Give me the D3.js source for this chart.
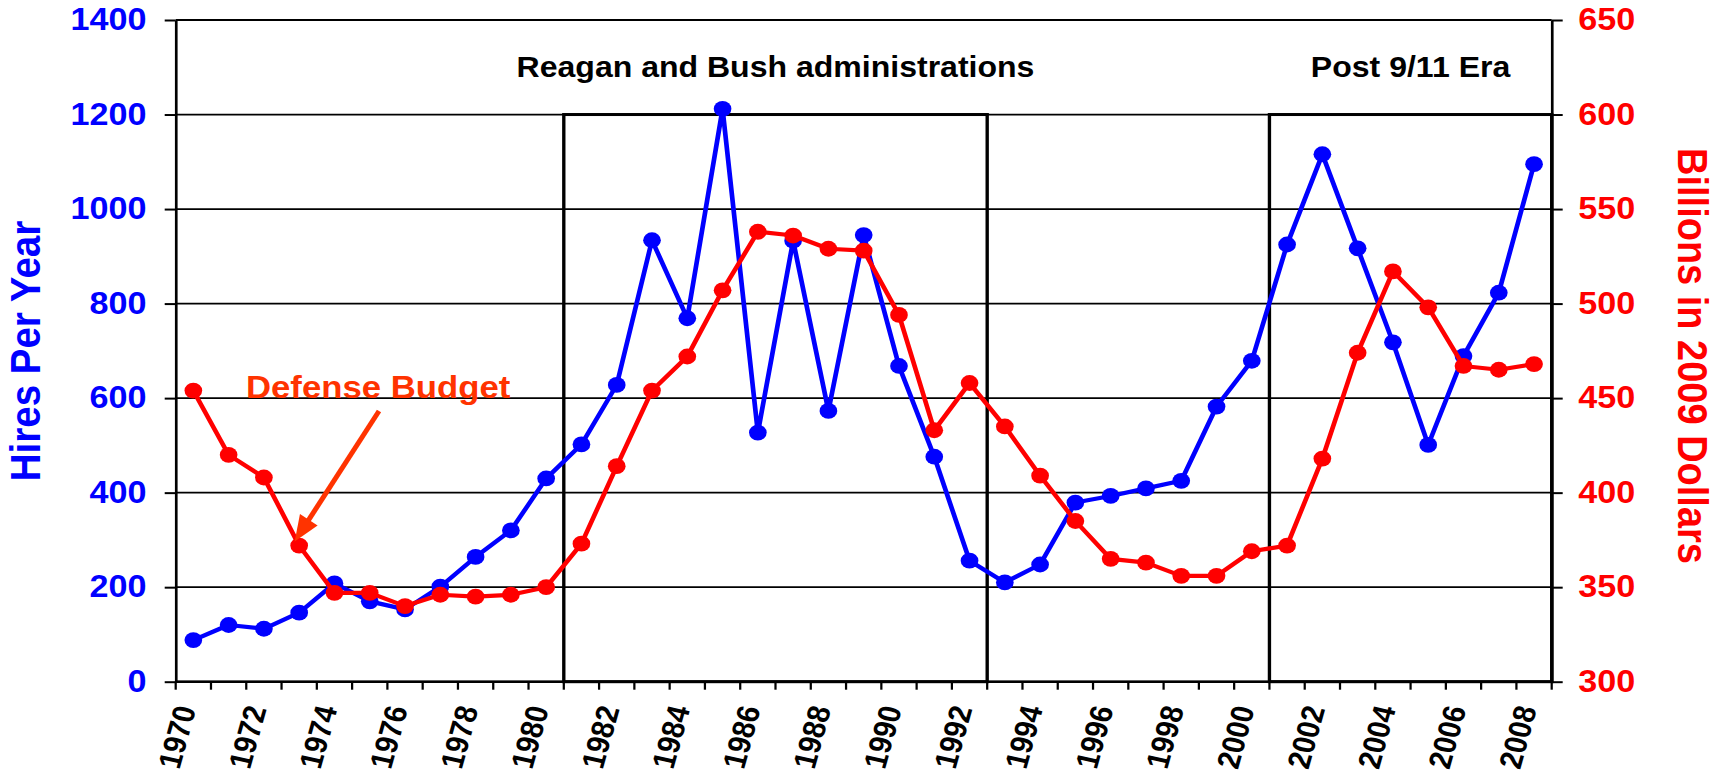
<!DOCTYPE html>
<html>
<head>
<meta charset="utf-8">
<script src="https://cdn.jsdelivr.net/npm/d3@7"></script>
<style>
  html, body { margin: 0; padding: 0; background: #fff; }
  svg { display: block; font-family: "Liberation Sans", Arial, sans-serif; font-weight: bold; }
</style>
</head>
<body>
<svg id="chart" width="1725" height="776"></svg>
<script>
// ---- data ----
const years = [1970, 1971, 1972, 1973, 1974, 1975, 1976, 1977, 1978, 1979,
               1980, 1981, 1982, 1983, 1984, 1985, 1986, 1987, 1988, 1989,
               1990, 1991, 1992, 1993, 1994, 1995, 1996, 1997, 1998, 1999,
               2000, 2001, 2002, 2003, 2004, 2005, 2006, 2007, 2008];

// hires per year (left axis)
const hires = [88, 120, 112, 146, 208, 170, 153, 201, 264, 320,
               430, 502, 628, 934, 769, 1212, 527, 933, 573, 945,
               668, 476, 256, 210, 248, 379, 393, 409, 425, 582,
               679, 925, 1116, 917, 718, 501, 689, 823, 1095];

// defense budget, billions in 2009 dollars (right axis)
const budget = [454, 420, 408, 372, 347, 347, 340, 346, 345, 346,
                350, 373, 414, 454, 472, 507, 538, 536, 529, 528,
                494, 433, 458, 435, 409, 385, 365, 363, 356, 356,
                369, 372, 418, 474, 517, 498, 467, 465, 468];

const hiresTicks  = [0, 200, 400, 600, 800, 1000, 1200, 1400];
const budgetTicks = [300, 350, 400, 450, 500, 550, 600, 650];
const yearLabels  = [1970, 1972, 1974, 1976, 1978, 1980, 1982, 1984, 1986, 1988,
                     1990, 1992, 1994, 1996, 1998, 2000, 2002, 2004, 2006, 2008];

// framed periods: name, first year, last year, top of the frame (hires units)
const eraNames  = ["Reagan and Bush administrations", "Post 9/11 Era"];
const eraStart  = [1981, 2001];
const eraEnd    = [1992, 2008];
const eraTop    = 1200;

const annotationText = "Defense Budget";
const annotationYear = 1973;

// ---- layout ----
const SX = 1.12;                    // horizontal stretch of the whole drawing
const L = 175.7 / SX, R = 1551.7 / SX, T = 20, B = 681.7;
const BLUE = "#0000FF", RED = "#FF0000", ORANGE = "#FF3300";

const svg = d3.select("#chart");
const root = svg.append("g").attr("transform", `scale(${SX},1)`);

const x = d3.scaleBand().domain(years).range([L, R]).padding(0);
const cx = yr => x(yr) + x.bandwidth() / 2;
const yL = d3.scaleLinear().domain([0, 1400]).range([B, T]);
const yR = d3.scaleLinear().domain([300, 650]).range([B, T]);

// horizontal gridlines
root.append("g")
  .selectAll("line").data(hiresTicks).join("line")
  .attr("x1", L).attr("x2", R)
  .attr("y1", d => yL(d)).attr("y2", d => yL(d))
  .attr("stroke", "#000").attr("stroke-width", 1.8);

// period frames and their titles
const eras = eraNames.map((name, i) => ({ name, start: eraStart[i], end: eraEnd[i] }));
root.append("g")
  .selectAll("rect").data(eras).join("rect")
  .attr("x", d => x(d.start))
  .attr("width", d => x(d.end) + x.bandwidth() - x(d.start))
  .attr("y", yL(eraTop))
  .attr("height", B - yL(eraTop))
  .attr("fill", "none").attr("stroke", "#000").attr("stroke-width", 3);

root.append("g")
  .selectAll("text").data(eras).join("text")
  .attr("x", d => (x(d.start) + x(d.end) + x.bandwidth()) / 2)
  .attr("y", yL(1300))
  .attr("dy", "0.35em")
  .attr("text-anchor", "middle")
  .attr("font-size", 28.6)
  .attr("fill", "#000")
  .text(d => d.name);

// left axis
const axL = root.append("g").attr("transform", `translate(${L},0)`)
  .call(d3.axisLeft(yL).tickValues(hiresTicks).tickSize(11 / SX)
        .tickSizeOuter(0).tickPadding(16.3).tickFormat(d3.format("d")));
axL.select(".domain").attr("stroke", "#000").attr("stroke-width", 2.4);
axL.selectAll(".tick line").attr("stroke", "#000").attr("stroke-width", 2);
axL.selectAll(".tick text")
  .attr("fill", BLUE).attr("font-size", 30.5)
  .attr("font-family", "Liberation Sans, Arial, sans-serif").attr("font-weight", "bold");

// right axis
const axR = root.append("g").attr("transform", `translate(${R},0)`)
  .call(d3.axisRight(yR).tickValues(budgetTicks).tickSize(11 / SX)
        .tickSizeOuter(0).tickPadding(14).tickFormat(d3.format("d")));
axR.select(".domain").attr("stroke", "#000").attr("stroke-width", 2.4);
axR.selectAll(".tick line").attr("stroke", "#000").attr("stroke-width", 2);
axR.selectAll(".tick text")
  .attr("fill", RED).attr("font-size", 30.5)
  .attr("font-family", "Liberation Sans, Arial, sans-serif").attr("font-weight", "bold");

// category axis: baseline, ticks between categories, slanted year labels
const axB = root.append("g");
axB.append("line")
  .attr("x1", L).attr("x2", R).attr("y1", B).attr("y2", B)
  .attr("stroke", "#000").attr("stroke-width", 2.6);
axB.selectAll("line.tk").data(years.map(yr => x(yr)).concat([R])).join("line")
  .attr("class", "tk")
  .attr("x1", d => d).attr("x2", d => d)
  .attr("y1", B).attr("y2", B + 8)
  .attr("stroke", "#000").attr("stroke-width", 2);
axB.selectAll("text").data(yearLabels).join("text")
  .attr("transform", d => `translate(${cx(d) + 3 / SX},${B + 27}) rotate(-76)`)
  .attr("text-anchor", "end")
  .attr("font-size", 28.5)
  .attr("fill", "#000")
  .text(d => d);

// axis titles
root.append("text")
  .attr("transform", `translate(${40 / SX},351) rotate(-90)`)
  .attr("text-anchor", "middle")
  .attr("font-size", 38.5)
  .attr("fill", BLUE)
  .text("Hires Per Year");

root.append("text")
  .attr("transform", `translate(${1678 / SX},356) rotate(90)`)
  .attr("text-anchor", "middle")
  .attr("font-size", 38)
  .attr("fill", RED)
  .text("Billions in 2009 Dollars");

// series lines with round markers
function drawSeries(values, yScale, color) {
  const g = root.append("g");
  g.append("path")
    .datum(values)
    .attr("fill", "none")
    .attr("stroke", color)
    .attr("stroke-width", 4.2)
    .attr("stroke-linejoin", "round")
    .attr("d", d3.line().x((d, i) => cx(years[i])).y(d => yScale(d)));
  g.selectAll("circle").data(values).join("circle")
    .attr("cx", (d, i) => cx(years[i]))
    .attr("cy", d => yScale(d))
    .attr("r", 7.9)
    .attr("fill", color);
}
drawSeries(hires, yL, BLUE);
drawSeries(budget, yR, RED);

// annotation: label and arrow pointing to the budget marker
root.append("text")
  .attr("x", 246 / SX).attr("y", 398)
  .attr("font-size", 31)
  .attr("fill", ORANGE)
  .text(annotationText);

const plain = svg.append("g");
const ai = years.indexOf(annotationYear);
const tip = [cx(annotationYear) * SX - 4.5, yR(budget[ai]) - 4];
const tail = [379, 411];
const len = Math.hypot(tip[0] - tail[0], tip[1] - tail[1]);
const u = [(tip[0] - tail[0]) / len, (tip[1] - tail[1]) / len];
const n = [-u[1], u[0]];
const headLen = 26, headHalf = 10.5;
const base = [tip[0] - u[0] * headLen, tip[1] - u[1] * headLen];
plain.append("line")
  .attr("x1", tail[0]).attr("y1", tail[1])
  .attr("x2", base[0] + u[0] * 2).attr("y2", base[1] + u[1] * 2)
  .attr("stroke", ORANGE).attr("stroke-width", 5);
plain.append("path")
  .attr("d", d3.line()([
    tip,
    [base[0] + n[0] * headHalf, base[1] + n[1] * headHalf],
    [base[0] - n[0] * headHalf, base[1] - n[1] * headHalf]
  ]) + "Z")
  .attr("fill", ORANGE);
</script>
</body>
</html>
